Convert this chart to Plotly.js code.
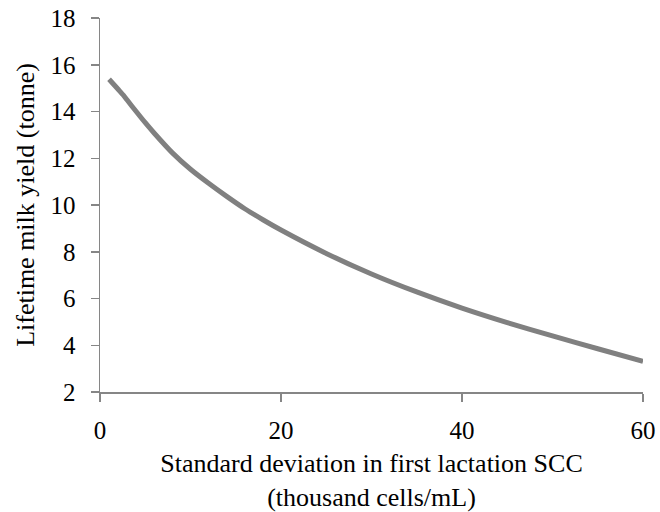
<!DOCTYPE html>
<html>
<head>
<meta charset="utf-8">
<script src="https://cdn.plot.ly/plotly-3.0.1.min.js"></script>
<style>html,body{margin:0;padding:0;background:#fff;}#chart{width:660px;height:512px;}</style>
</head>
<body>
<div id="chart"></div>
<script>
const sdSCC = [1, 2, 2.6, 3, 4, 5, 6, 8, 10, 12, 14, 16, 18, 20, 25, 30, 35, 40, 45, 50, 55, 60];
const milkYield = [15.38, 14.95, 14.69, 14.49, 14.0, 13.52, 13.07, 12.23, 11.53, 10.93, 10.37, 9.84, 9.37, 8.93, 7.93, 7.05, 6.28, 5.59, 4.97, 4.40, 3.85, 3.31];
const xTicks = [0, 20, 40, 60];
const yTicks = [2, 4, 6, 8, 10, 12, 14, 16, 18];

const fam = '"Liberation Serif", "Times New Roman", serif';
const tickFont = {family: fam, size: 25, color: '#000'};
const titleFont = {family: fam, size: 26, color: '#000'};

Plotly.newPlot('chart', [{
  x: sdSCC, y: milkYield, type: 'scatter', mode: 'lines',
  line: {color: '#808080', width: 5, shape: 'spline', smoothing: 0.6},
  hoverinfo: 'skip'
}], {
  width: 660, height: 512,
  margin: {l: 100, r: 17, t: 18, b: 120},
  paper_bgcolor: '#fff', plot_bgcolor: '#fff',
  font: titleFont,
  showlegend: false,
  xaxis: {
    range: [0, 60], tickvals: xTicks, ticktext: xTicks.map(String),
    showgrid: false, zeroline: false, showline: true, linecolor: '#868686', linewidth: 1.5,
    ticks: 'outside', ticklen: 8, tickcolor: '#868686', tickwidth: 1.5,
    tickfont: tickFont, ticklabelstandoff: 7,
    title: {text: 'Standard deviation in first lactation SCC<br>(thousand cells/mL)', font: titleFont, standoff: 11}
  },
  yaxis: {
    range: [2, 18], tickvals: yTicks, ticktext: yTicks.map(String),
    showgrid: false, zeroline: false, showline: true, linecolor: '#868686', linewidth: 1.5,
    ticks: 'outside', ticklen: 8, tickcolor: '#868686', tickwidth: 1.5,
    tickfont: tickFont, ticklabelstandoff: 10,
    title: {text: 'Lifetime milk yield (tonne)', font: titleFont, standoff: 8}
  }
}, {displayModeBar: false, staticPlot: true});
</script>
</body>
</html>
